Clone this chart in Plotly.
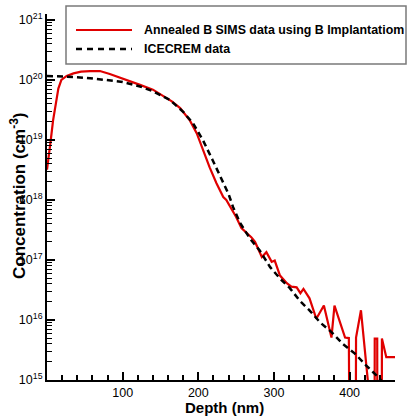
import plotly.graph_objects as go

# ---- data ----
sims_depth = [0, 2, 5, 8, 12, 15, 19, 26, 35, 45, 57, 70, 83, 95, 105, 123, 140, 153, 165,
              176, 189, 198, 206, 215, 224, 233, 237, 244, 250, 257, 264, 270, 275, 284, 290,
              297, 301, 308, 317, 323, 330, 335, 339, 343, 347, 356, 366, 376, 380, 394, 399,
              400, 408, 408.5, 415, 424, 424.5, 433, 433.2, 436.5, 436.7, 442.5, 442.7, 448.5, 460]
sims_conc = [3.2e18, 5.6e18, 1.0e19, 2.1e19, 4.7e19, 7.2e19, 1.0e20, 1.17e20, 1.29e20, 1.38e20,
             1.41e20, 1.41e20, 1.26e20, 1.12e20, 1.0e20, 8.3e19, 6.9e19, 5.5e19, 4.4e19,
             3.4e19, 2.1e19, 1.29e19, 6.8e18, 3.5e18, 1.9e18, 1.12e18, 1.0e18, 7.2e17, 5.2e17,
             3.4e17, 2.8e17, 2.4e17, 2.0e17, 1.12e17, 1.35e17, 9.3e16, 9.8e16, 5.5e16, 4.1e16,
             3.6e16, 3.5e16, 2.8e16, 3.3e16, 2.75e16, 2.3e16, 1.05e16, 1.74e16, 5.1e15, 1.74e16,
             5.1e15, 5.0e15, 3e13, 3e13, 5.1e15, 1.45e16, 1.0e15, 3e13, 3e13, 4.9e15, 4.9e15,
             3e13, 3e13, 4.9e15, 2.4e15, 2.4e15]

ice_depth = [0, 20, 35, 57, 79, 100, 123, 140, 162, 180, 193, 206, 219, 231, 240, 246, 255,
             268, 281, 295, 308, 321, 334, 347, 361, 376, 391, 407, 422, 440, 450]
ice_conc = [1.17e20, 1.15e20, 1.12e20, 1.07e20, 1.0e20, 9.3e19, 7.8e19, 6.5e19, 4.7e19,
            2.95e19, 1.9e19, 1.0e19, 4.6e18, 2.2e18, 1.26e18, 7.6e17, 4.2e17, 2.3e17, 1.45e17,
            7.6e16, 4.9e16, 3.4e16, 2.1e16, 1.45e16, 9.1e15, 6.3e15, 4.0e15, 2.75e15, 1.74e15,
            1.05e15, 7e14]

x_ticks = [100, 200, 300, 400]
y_exps = [15, 16, 17, 18, 19, 20, 21]

series_names = ["Annealed B SIMS data using B Implantatiom", "ICECREM data"]
x_title = "Depth (nm)"
y_title = "Concentration (cm<sup>-3</sup>)"

RED = "#e00000"
FONT = "Liberation Sans"

fig = go.Figure()
fig.add_trace(go.Scatter(x=sims_depth, y=sims_conc, mode="lines", name=series_names[0],
                         line=dict(color=RED, width=2.2), showlegend=False))
fig.add_trace(go.Scatter(x=ice_depth, y=ice_conc, mode="lines", name=series_names[1],
                         line=dict(color="black", width=2.5, dash="6px,4px"), showlegend=False))

y_minor = [k * 10.0 ** e for e in y_exps[:-1] for k in range(2, 10)]

L, R, T, B = 47, 13, 14, 36
W, H = 408, 416
pw, ph = W - L - R, H - T - B


def px(xp):
    return (xp - L) / pw


def py(yp):
    return (H - B - yp) / ph


fig.update_layout(
    width=W, height=H,
    margin=dict(l=L, r=R, t=T, b=B, pad=0),
    paper_bgcolor="white", plot_bgcolor="white",
    font=dict(family=FONT, color="black"),
    xaxis=dict(range=[0, 460], showgrid=False, zeroline=False, showline=True,
               linecolor="black", linewidth=2, ticks="inside", ticklen=8, tickwidth=1.5,
               tickcolor="black", tickmode="array", tickvals=x_ticks,
               ticktext=[str(v) for v in x_ticks], tickfont=dict(size=12.5, family=FONT),
               minor=dict(dtick=20, tick0=0, ticks="inside", ticklen=5, tickwidth=1.5,
                          tickcolor="black", showgrid=False)),
    yaxis=dict(type="log", range=[15, 21.1], showgrid=False, zeroline=False, showline=True,
               linecolor="black", linewidth=2, ticks="inside", ticklen=8, tickwidth=1.5,
               tickcolor="black", tickmode="array", tickvals=[10.0 ** e for e in y_exps],
               ticktext=["10<sup>%d</sup>" % e for e in y_exps],
               tickfont=dict(size=12.5, family=FONT),
               minor=dict(tickmode="array", tickvals=y_minor, ticks="inside", ticklen=5,
                          tickwidth=1.2, tickcolor="black", showgrid=False)),
)

# axis titles
fig.add_annotation(text=x_title, xref="paper", yref="paper", x=px(224), y=py(407),
                   showarrow=False, xanchor="center", yanchor="middle",
                   font=dict(size=15, family=FONT, color="black", weight="bold"))
fig.add_annotation(text=y_title, xref="paper", yref="paper", x=px(18), y=py(196),
                   showarrow=False, xanchor="center", yanchor="middle", textangle=-90,
                   font=dict(size=17, family=FONT, color="black", weight="bold"))

# legend box
fig.add_shape(type="rect", xref="paper", yref="paper", x0=px(66), x1=px(406),
              y0=py(64), y1=py(6), line=dict(color="#7a7a7a", width=1.5),
              fillcolor="white", layer="above")
fig.add_shape(type="line", xref="paper", yref="paper", x0=px(76), x1=px(132),
              y0=py(30), y1=py(30), line=dict(color=RED, width=2.2), layer="above")
fig.add_shape(type="line", xref="paper", yref="paper", x0=px(76), x1=px(132),
              y0=py(49), y1=py(49), line=dict(color="black", width=2.5, dash="6px,5px"),
              layer="above")
for name, yy in zip(series_names, [30, 49]):
    fig.add_annotation(text=name, xref="paper", yref="paper", x=px(142), y=py(yy),
                       showarrow=False, xanchor="left", yanchor="middle",
                       font=dict(size=12.4, family=FONT, color="black", weight="bold"))

fig.write_html("out.html")
